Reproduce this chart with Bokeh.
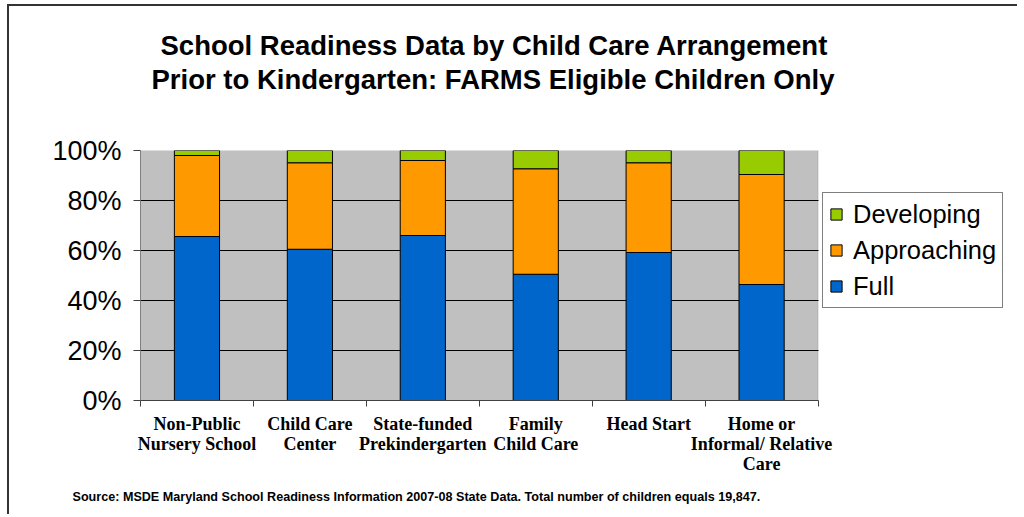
from bokeh.plotting import figure
from bokeh.models import (Range1d, FixedTicker, Legend, LegendItem, Title, ColumnDataSource, BoxAnnotation)
from bokeh.embed import file_html
from bokeh.resources import INLINE

categories = ["Non-Public\nNursery School", "Child Care\nCenter", "State-funded\nPrekindergarten",
              "Family\nChild Care", "Head Start", "Home or\nInformal/ Relative\nCare"]
full = [65.6, 60.5, 66.0, 50.5, 59.2, 46.4]
approaching = [32.4, 34.6, 30.0, 42.2, 35.9, 44.0]
developing = [2.0, 4.9, 4.0, 7.3, 4.9, 9.6]
series = ["Full", "Approaching", "Developing"]
colors = ["#0066CC", "#FF9900", "#99CC00"]
y_ticks = [0, 20, 40, 60, 80, 100]

n = len(categories)
xs = [i + 0.5 for i in range(n)]
src = ColumnDataSource(dict(x=xs, Full=full, Approaching=approaching, Developing=developing))

# layout (pixels): the frame also hosts the legend to the right of the bar area
MB_LEFT, MB_RIGHT = 131, 10
W, H = 1010, 510
BAR_AREA_PX = 676
frame_w = (W - 2) - MB_LEFT - MB_RIGHT
x_end = n * frame_w / BAR_AREA_PX

p = figure(width=W, height=H, output_backend="svg", toolbar_location=None,
           x_range=Range1d(0, x_end), y_range=Range1d(0, 100),
           min_border_left=MB_LEFT, min_border_right=MB_RIGHT, min_border_top=144, min_border_bottom=116)
p.margin = (4, 0, 0, 7)
p.styles = {"border-left": "2px solid #333333", "border-top": "2px solid #333333"}
p.background_fill_color = "white"
p.border_fill_color = "white"
p.outline_line_color = None

# plot area background
p.add_layout(BoxAnnotation(left=0, right=n, bottom=0, top=100, fill_color="#C0C0C0", fill_alpha=1,
                           line_color="#808080", line_width=1, level="image"))

rs = p.vbar_stack(series, x="x", width=0.4, source=src, color=colors,
                  line_color="black", line_width=1)

# grid
p.xgrid.visible = False
p.ygrid.ticker = FixedTicker(ticks=y_ticks)
p.ygrid.grid_line_color = "black"
p.ygrid.grid_line_width = 1
try:
    p.ygrid.cross_bounds = (0, n)
except Exception:
    p.ygrid.visible = False
    p.segment(x0=[0] * len(y_ticks), x1=[n] * len(y_ticks), y0=y_ticks, y1=y_ticks,
              line_color="black", line_width=1, level="underlay")

# y axis
p.yaxis.ticker = FixedTicker(ticks=y_ticks)
p.yaxis.major_label_overrides = {v: f"{v}%" for v in y_ticks}
p.yaxis.major_label_text_font = "Liberation Sans"
p.yaxis.major_label_text_font_size = "27px"
p.yaxis.major_label_text_color = "black"
p.yaxis.major_tick_out = 7
p.yaxis.major_tick_in = 0
p.yaxis.minor_tick_out = 0
p.yaxis.minor_tick_in = 0
p.yaxis.major_label_standoff = 12
p.yaxis.axis_line_color = "#808080"
p.yaxis.major_tick_line_color = "#404040"

# x axis
p.xaxis.bounds = (0, n)
p.xaxis.ticker = FixedTicker(ticks=xs, minor_ticks=list(range(n + 1)))
p.xaxis.major_label_overrides = {x: c for x, c in zip(xs, categories)}
p.xaxis.major_label_text_font = "Liberation Serif"
p.xaxis.major_label_text_font_style = "bold"
p.xaxis.major_label_text_font_size = "18px"
p.xaxis.major_label_text_line_height = 1.02
p.xaxis.major_label_text_color = "black"
p.xaxis.major_tick_out = 0
p.xaxis.major_tick_in = 0
p.xaxis.minor_tick_out = 6
p.xaxis.minor_tick_in = 0
p.xaxis.major_label_standoff = 7
p.xaxis.axis_line_color = "#404040"
p.xaxis.minor_tick_line_color = "#404040"

# titles (stacked outward from the frame)
gap = Title(text=" ", align="left", text_font_size="10px", standoff=42)
t2 = Title(text="Prior to Kindergarten: FARMS Eligible Children Only", align="left", offset=11,
           text_font="Liberation Sans", text_font_style="bold", text_font_size="27.5px",
           text_color="black", standoff=1)
t1 = Title(text="School Readiness Data by Child Care Arrangement", align="left", offset=20,
           text_font="Liberation Sans", text_font_style="bold", text_font_size="27.5px",
           text_color="black", standoff=2)
p.add_layout(gap, "above")
p.add_layout(t2, "above")
p.add_layout(t1, "above")

src_title = Title(text="Source: MSDE Maryland School Readiness Information 2007-08 State Data. Total number of children equals 19,847.",
                  align="left", offset=-68, text_font="Liberation Sans", text_font_style="bold",
                  text_font_size="12.6px", text_color="black", standoff=20)
p.add_layout(src_title, "below")

# legend
legend = Legend(items=[LegendItem(label=s, renderers=[r]) for s, r in zip(series[::-1], rs[::-1])],
                location=(682, 92))
legend.label_text_font = "Liberation Sans"
legend.label_text_font_size = "25.5px"
legend.label_text_color = "black"
legend.glyph_width = 14
legend.glyph_height = 14
legend.label_height = 30
legend.spacing = 6
legend.padding = 6
legend.label_standoff = 10
legend.border_line_color = "black"
legend.border_line_width = 1
legend.background_fill_alpha = 1
legend.margin = 0
p.add_layout(legend)

open("out.html", "w").write(file_html(p, INLINE))
